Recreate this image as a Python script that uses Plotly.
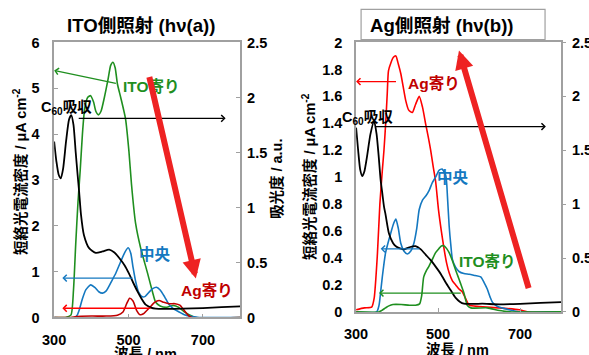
import plotly.graph_objects as go

# The page is captured with an 8px body margin and a slight resize, so
# target picture coordinates (T) map to figure pixels as T/S - 8.
SX, SY = 0.98, 0.953
OFF = 8
FW, FH = 594, 366

# ---------------- data: panel (a) ITO-side illumination ----------------
ito_a_nm = [300, 330, 345, 352, 358, 364, 370, 376, 382, 390, 398, 406, 412, 419, 426, 435, 445, 452, 458, 464, 470, 479, 492, 501, 508, 519, 533, 550, 564, 573, 585, 600, 620, 635, 650, 665, 680, 800]
ito_a_val = [0, 0, 0.05, 0.6, 1.6, 2.5, 3.2, 4.0, 4.55, 4.8, 4.84, 4.7, 4.5, 4.42, 4.5, 4.8, 5.2, 5.5, 5.57, 5.45, 5.1, 4.8, 4.33, 3.63, 2.9, 2.05, 1.5, 1.0, 0.57, 0.33, 0.25, 0.22, 0.26, 0.22, 0.12, 0.05, 0, 0]

mid_a_nm = [300, 355, 362, 368, 375, 385, 398, 410, 420, 430, 440, 455, 466, 478, 490, 499, 506, 512, 519, 527, 537, 545, 555, 565, 575, 585, 597, 609, 622, 636, 650, 671, 690, 800]
mid_a_val = [0, 0, 0.05, 0.18, 0.38, 0.6, 0.71, 0.65, 0.56, 0.53, 0.58, 0.8, 0.97, 1.2, 1.42, 1.52, 1.4, 1.1, 0.79, 0.55, 0.45, 0.46, 0.55, 0.63, 0.66, 0.6, 0.45, 0.28, 0.18, 0.12, 0.06, 0.02, 0, 0]

ag_a_nm = [300, 345, 360, 400, 440, 470, 485, 495, 503, 512, 522, 531, 540, 555, 570, 582, 595, 610, 625, 638, 650, 660, 670, 800]
ag_a_val = [0, 0, 0.02, 0.03, 0.03, 0.05, 0.12, 0.3, 0.42, 0.36, 0.15, 0.06, 0.08, 0.2, 0.33, 0.37, 0.33, 0.3, 0.3, 0.27, 0.15, 0.05, 0, 0]

abs_a_nm = [300, 306, 312, 318, 324, 332, 340, 346, 352, 358, 363, 367, 372, 380, 394, 412, 430, 448, 462, 475, 490, 501, 512, 524, 535, 546, 560, 573, 600, 644, 700, 750, 800]
abs_a_val = [1.6, 1.42, 1.3, 1.265, 1.35, 1.6, 1.8, 1.84, 1.75, 1.5, 1.3, 1.15, 0.94, 0.75, 0.63, 0.587, 0.6, 0.617, 0.59, 0.54, 0.47, 0.4, 0.32, 0.237, 0.17, 0.116, 0.09, 0.08, 0.078, 0.08, 0.085, 0.093, 0.1]

# ---------------- data: panel (b) Ag-side illumination ----------------
ag_b_nm = [300, 320, 338, 344, 352, 358, 364, 368, 372, 376, 379, 385, 391, 397, 403, 409, 415, 421, 428, 437, 445, 454, 462, 470, 476, 482, 488, 494, 501, 508, 515, 521, 527, 535, 543, 551, 559, 567, 576, 600, 649, 698, 720, 800]
ag_b_val = [0.016, 0.03, 0.035, 0.1, 0.43, 0.8, 1.05, 1.2, 1.39, 1.62, 1.79, 1.85, 1.89, 1.9, 1.84, 1.77, 1.67, 1.57, 1.5, 1.48, 1.54, 1.6, 1.52, 1.39, 1.3, 1.2, 1.08, 0.97, 0.76, 0.6, 0.46, 0.36, 0.29, 0.23, 0.2, 0.17, 0.15, 0.1, 0.05, 0.04, 0.03, 0.016, 0, 0]

mid_b_nm = [300, 350, 356, 360, 364, 372, 385, 392, 397, 403, 409, 417, 425, 433, 441, 448, 454, 462, 470, 478, 486, 494, 502, 510, 519, 523, 527, 531, 535, 543, 551, 563, 576, 590, 604, 612, 620, 627, 633, 645, 673, 700, 800]
mid_b_val = [0, 0, 0.05, 0.15, 0.26, 0.44, 0.59, 0.66, 0.69, 0.62, 0.51, 0.45, 0.43, 0.45, 0.51, 0.62, 0.76, 0.83, 0.86, 0.9, 0.96, 1.0, 1.05, 1.06, 1.01, 0.85, 0.64, 0.5, 0.39, 0.33, 0.3, 0.285, 0.28, 0.27, 0.26, 0.22, 0.17, 0.11, 0.07, 0.04, 0.016, 0, 0]

ito_b_nm = [300, 355, 362, 372, 380, 390, 410, 430, 445, 455, 460, 465, 472, 478, 486, 494, 502, 508, 515, 521, 527, 535, 543, 549, 555, 563, 568, 571, 580, 620, 650, 680, 800]
ito_b_val = [0, 0, 0.01, 0.03, 0.045, 0.055, 0.055, 0.05, 0.05, 0.06, 0.12, 0.26, 0.31, 0.34, 0.39, 0.44, 0.47, 0.49, 0.49, 0.47, 0.44, 0.38, 0.31, 0.26, 0.21, 0.14, 0.08, 0.05, 0.03, 0.03, 0.01, 0, 0]

abs_b_nm = [300, 305, 310, 315, 320, 327, 335, 344, 350, 355, 360, 364, 368, 372, 380, 390, 397, 407, 417, 430, 445, 458, 470, 482, 494, 507, 519, 531, 543, 553, 563, 590, 608, 650, 700, 750, 800]
abs_b_val = [1.71, 1.5, 1.32, 1.26, 1.3, 1.45, 1.65, 1.77, 1.65, 1.45, 1.22, 1.1, 0.98, 0.9, 0.73, 0.64, 0.61, 0.59, 0.58, 0.6, 0.61, 0.58, 0.53, 0.48, 0.42, 0.35, 0.27, 0.2, 0.13, 0.095, 0.076, 0.075, 0.076, 0.07, 0.075, 0.083, 0.09]

x_ticks = [300, 500, 700]

GREEN = '#1f8f1f'
BLUE = '#1478c0'
DARKRED = '#c00000'
RED = '#ff0000'
BIGRED = '#ee2222'
AXC = '#a0a0a0'
FONT = 'Liberation Sans, Arial, Noto Sans CJK JP, sans-serif'
FS = 1.0 / 0.966   # font compensation for the capture resize

fig = go.Figure()

def line(xs, ys, color, xa, ya, w=1.6):
    fig.add_trace(go.Scatter(x=xs, y=ys, mode='lines', xaxis=xa, yaxis=ya,
                             line=dict(color=color, width=w, shape='spline', smoothing=0.6),
                             hoverinfo='skip', showlegend=False))

line(ito_a_nm, ito_a_val, GREEN, 'x', 'y')
line(mid_a_nm, mid_a_val, BLUE, 'x', 'y')
line(ag_a_nm, ag_a_val, DARKRED, 'x', 'y')
line(abs_a_nm, abs_a_val, 'black', 'x', 'y2', 1.8)

line(ag_b_nm, ag_b_val, RED, 'x2', 'y3')
line(mid_b_nm, mid_b_val, BLUE, 'x2', 'y3')
line(ito_b_nm, ito_b_val, GREEN, 'x2', 'y3')
line(abs_b_nm, abs_b_val, 'black', 'x2', 'y4', 1.8)

tf = dict(family=FONT, size=round(14 * FS, 1), color='black', weight='bold')

def px(x):
    return (x / SX - OFF) / FW

def py(y):
    return 1 - (y / SY - OFF) / FH

common_x = dict(range=[300, 800], tickvals=x_ticks, showgrid=False, zeroline=False,
                showline=True, linecolor=AXC, linewidth=1.5, mirror=True,
                ticks='inside', ticklen=4, tickcolor=AXC, tickfont=tf, ticklabelstandoff=8)

fig.update_layout(
    width=FW, height=FH, autosize=False,
    margin=dict(l=0, r=0, t=0, b=0),
    paper_bgcolor='white', plot_bgcolor='white',
    showlegend=False,
    xaxis=dict(domain=[px(50), px(236)], anchor='y', **common_x),
    yaxis=dict(domain=[py(316), py(42)], range=[0, 6], dtick=1, anchor='x',
               showgrid=False, zeroline=False, showline=True, linecolor=AXC, linewidth=1.5,
               mirror=True, ticks='inside', ticklen=4, tickcolor=AXC, tickfont=tf,
               ticklabelstandoff=10),
    yaxis2=dict(overlaying='y', side='right', anchor='x', range=[0, 2.5], dtick=0.5,
                showgrid=False, zeroline=False, showline=False,
                ticks='inside', ticklen=4, tickcolor=AXC, tickfont=tf, ticklabelstandoff=6),
    xaxis2=dict(domain=[px(352), px(557)], anchor='y3', **common_x),
    yaxis3=dict(domain=[py(310.5), py(42)], range=[0, 2], dtick=0.2, anchor='x2',
                showgrid=False, zeroline=False, showline=True, linecolor=AXC, linewidth=1.5,
                mirror=True, ticks='', tickfont=tf, ticklabelstandoff=9),
    yaxis4=dict(overlaying='y3', side='right', anchor='x2', range=[0, 2.5], dtick=0.5,
                showgrid=False, zeroline=False, showline=False,
                ticks='outside', ticklen=4, tickcolor=AXC, tickfont=tf, ticklabelstandoff=3),
)

ann = []

def txt(x, y, s, size=15, color='black', angle=0, xanchor='center'):
    ann.append(dict(x=px(x), y=py(y), xref='paper', yref='paper', text='<b>' + s + '</b>',
                    showarrow=False, font=dict(family=FONT, size=round(size * FS, 1), color=color),
                    textangle=angle, xanchor=xanchor, yanchor='middle'))

# titles
txt(137, 25, 'ITO側照射 (hν(a))', 18)
txt(364, 25, 'Ag側照射 (hν(b))', 18, xanchor='left')
# axis titles
ytitle = '短絡光電流密度 / μA cm<sup>-2</sup>'
txt(16, 171, ytitle, 14, angle=-90)
txt(305, 176, ytitle, 14, angle=-90)
txt(273, 178, '吸光度 / a.u.', 14, angle=-90)
txt(141, 352, '波長 / nm', 14)
txt(453, 348, '波長 / nm', 14)
# series labels
txt(147, 86, 'ITO寄り', 15, GREEN)
txt(62, 107, 'C<sub>60</sub>吸収', 14)
txt(151, 253, '中央', 15, BLUE)
txt(203, 289, 'Ag寄り', 15, DARKRED)
txt(430, 83, 'Ag寄り', 15, DARKRED)
txt(363, 117, 'C<sub>60</sub>吸収', 14)
txt(449, 177, '中央', 15, BLUE)
txt(483, 260, 'ITO寄り', 15, GREEN)

# arrows: (tail_x, tail_y) -> (tip_x, tip_y) in data coordinates
arrows = [
    ('x', 'y', 470, 5.10, 300, 5.39, GREEN, 1.3, 4, 1.0),
    ('x', 'y2', 362, 1.81, 761, 1.81, 'black', 1.3, 4, 1.0),
    ('x', 'y', 515, 0.86, 322, 0.86, BLUE, 1.3, 4, 1.0),
    ('x', 'y', 563, 0.20, 322, 0.20, RED, 1.3, 4, 1.0),
    ('x', 'y', 555, 5.28, 681, 0.85, BIGRED, 6, 2, 0.62),
    ('x2', 'y3', 401, 1.71, 300, 1.71, RED, 1.3, 4, 1.0),
    ('x2', 'y4', 344, 1.72, 763, 1.72, 'black', 1.3, 4, 1.0),
    ('x2', 'y3', 458, 0.468, 360, 0.468, BLUE, 1.3, 4, 1.0),
    ('x2', 'y3', 559, 0.14, 356, 0.14, GREEN, 1.3, 4, 1.0),
    ('x2', 'y3', 722, 0.165, 551, 1.94, BIGRED, 6, 2, 0.62),
]
for xr, yr, tx, ty, hx, hy, c, w, head, size in arrows:
    ann.append(dict(x=hx, y=hy, ax=tx, ay=ty, xref=xr, yref=yr, axref=xr, ayref=yr,
                    text='', showarrow=True, arrowhead=head, arrowwidth=w, arrowsize=size,
                    arrowcolor=c, standoff=0, startstandoff=0))

fig.update_layout(annotations=ann)

fig.add_shape(type='rect', xref='paper', yref='paper', x0=px(357), x1=px(541), y0=py(39), y1=py(9),
              line=dict(color=AXC, width=1.2), fillcolor='rgba(0,0,0,0)', layer='below')

fig.write_html('out.html')
